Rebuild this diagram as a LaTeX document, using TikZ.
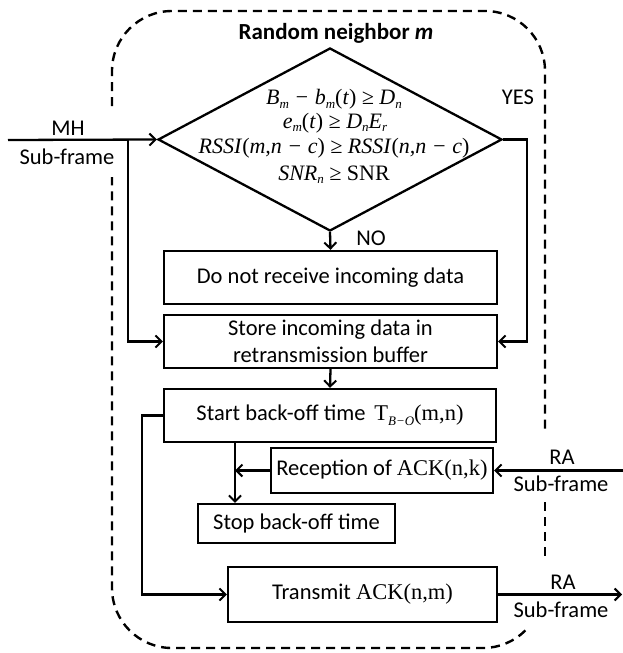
\documentclass[tikz,border=0pt]{standalone}
\usepackage{fontspec}
\setmainfont{Carlito}
\newfontfamily\tms{Liberation Serif}
\usetikzlibrary{arrows.meta,shapes.geometric}
\newcommand\sbs[1]{\raisebox{-0.35ex}{\fontsize{13}{13}\selectfont\itshape #1}}
\newcommand\up[1]{\textup{#1}}
\begin{document}
\begin{tikzpicture}[x=1pt,y=-1pt,
  box/.style={draw, line width=2.3pt, inner sep=0pt, align=center, font=\fontsize{22.5}{27}\selectfont},
  flow/.style={line width=2.3pt, -{Straight Barb[length=6pt,width=12pt,line width=2pt]}},
  frame/.style={line width=2.4pt, dash pattern=on 9pt off 6pt},
  lbl/.style={font=\fontsize{22.5}{26}\selectfont, inner sep=0pt},
  mth/.style={font=\tms\itshape\fontsize{22}{24}\selectfont, inner sep=0pt, anchor=base}]
\useasboundingbox (0,0) rectangle (623,653);
% dashed frame
\draw[frame, rounded corners=60pt] (112,106) -- (112,11) -- (545,11) -- (545,433);
\draw[frame] (545,502) -- (545,560);
\draw[frame] (525.4,630.4) .. controls (514.2,641.6) and (498.9,648) .. (483,648) -- (172,648) .. controls (138.9,648) and (112,621.1) .. (112,588) -- (112,177);
% title
\node[font=\bfseries\fontsize{23}{26}\selectfont] (title) at (336,33) {Random neighbor \textit{m}};
% diamond
\node[draw, diamond, line width=2.3pt, minimum width=344pt, minimum height=183pt, inner sep=0pt] (dia) at (330,139.5) {};
\node[mth] (c1) at (334,104.5) {B\sbs{m} − b\sbs{m}\up{(}t\up{)} ≥ D\sbs{n}};
\node[mth] (c2) at (335,128) {e\sbs{m}\up{(}t\up{)} ≥ D\sbs{n}E\sbs{r}};
\node[mth] (c3) at (334,153.5) {RSSI\up{(}m,n − c\up{)} ≥ RSSI\up{(}n,n − c\up{)}};
\node[mth] (c4) at (334,180) {SNR\sbs{n} ≥ \up{SNR}};
% boxes
\node[box, minimum width=333pt, minimum height=53pt] (b1) at (330.5,277.5) {Do not receive incoming data};
\node[box, minimum width=333pt, minimum height=53pt] (b2) at (330.5,341.5) {Store incoming data in\\retransmission buffer};
\node[box, minimum width=332pt, minimum height=53pt] (b3) at (330,415.5) {Start back-off time \,{\tms T\raisebox{-0.4ex}{\fontsize{13}{13}\selectfont\itshape B−O}(m,n)}};
\node[box, minimum width=222pt, minimum height=45pt] (rec) at (382,470.5) {Reception of {\tms ACK(n,k)}};
\node[box, minimum width=197pt, minimum height=39pt] (stop) at (296.5,523.5) {Stop back-off time};
\node[box, minimum width=269pt, minimum height=55pt] (tx) at (362.5,594.5) {Transmit {\tms ACK(n,m)}};
% labels
\node[lbl] (no) at (371,238) {NO};
\node[lbl] (yes) at (518,97) {YES};
\node[lbl] (mh) at (68,128) {MH};
\node[lbl] (mhs) at (67,157) {Sub-frame};
\node[lbl] (ra1) at (562,457) {RA};
\node[lbl] (ra1s) at (561,484) {Sub-frame};
\node[lbl] (ra2) at (563,582) {RA};
\node[lbl] (ra2s) at (561,610) {Sub-frame};
% coordinates
\coordinate (mhin) at (8,140);
\coordinate (mhb) at (128,140);
\coordinate (j) at (235,470.5);
\coordinate (rain) at (623,470.5);
\coordinate (lp) at (142,415.5);
\coordinate (raout) at (622,594.5);
% connectors
\draw[flow] (dia.south) -- (b1.north);
\draw[flow] (mhin) -- (dia.west);
\draw[flow] (mhb) |- (b2.west);
\draw[flow] (dia.east) -- ++(24,0) |- (b2.east);
\draw[flow] (b2.south) -- (b3.north);
\draw[flow] (j |- b3.south) -- (j |- stop.north);
\draw[flow] (rec.west) -- (j);
\draw[flow] (rain) -- (rec.east);
\draw[flow] (b3.west) -- (lp) |- (tx.west);
\draw[flow] (tx.east) -- (raout);
\end{tikzpicture}
\end{document}
